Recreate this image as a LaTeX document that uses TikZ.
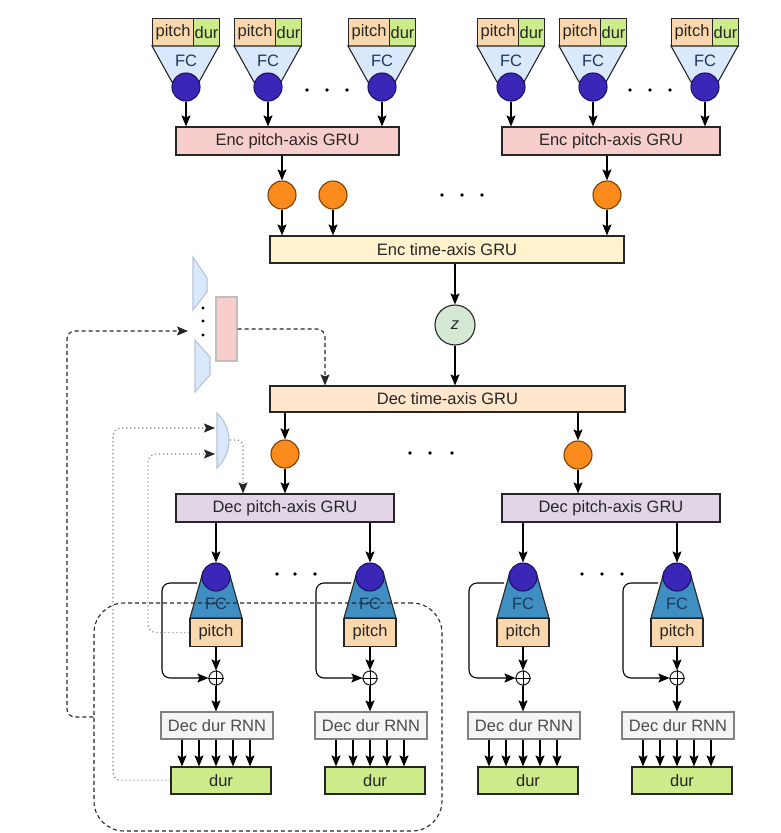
\documentclass[tikz,border=0pt]{standalone}
\usepackage{fontspec}
\setmainfont{Liberation Sans}
\usetikzlibrary{arrows.meta}
\definecolor{linec}{HTML}{262626}
\definecolor{pitchc}{HTML}{FAD7AC}
\definecolor{durc}{HTML}{CDEB8B}
\definecolor{fcenc}{HTML}{DAE8FC}
\definecolor{fcdec}{HTML}{3F8FC3}
\definecolor{fctext}{HTML}{1C3A5C}
\definecolor{unitc}{HTML}{3A27B8}
\definecolor{unitd}{HTML}{1C1266}
\definecolor{latc}{HTML}{FA8B1C}
\definecolor{latd}{HTML}{7A4000}
\definecolor{encp}{HTML}{F8CECC}
\definecolor{enctc}{HTML}{FFF2CC}
\definecolor{zc}{HTML}{D5E8D4}
\definecolor{dectc}{HTML}{FFE6CC}
\definecolor{decp}{HTML}{E1D5E7}
\definecolor{rnnc}{HTML}{F5F5F5}
\definecolor{fadec}{HTML}{B8C4D4}
\begin{document}
\begin{tikzpicture}[x=1pt,y=-1pt,line width=1.1pt,
	>={Stealth[length=11pt,width=9pt,inset=2pt]},
	every node/.style={font=\fontsize{16.5}{19}\selectfont,inner sep=0pt,text=linec},
	cell/.style={draw=linec,minimum height=28pt},
	unit/.style={circle,draw=unitd,fill=unitc,minimum size=28pt},
	lat/.style={circle,draw=latd,fill=latc,minimum size=28pt},
	dashline/.style={draw=linec,dash pattern=on 4pt off 3pt},
	dotline/.style={draw=gray,dash pattern=on 1.2pt off 2.8pt,-{Stealth[length=11pt,width=9pt,inset=2pt,linec]}}]
	\useasboundingbox (0,0) rectangle (780,833);
	
	%encoder inputs
	\foreach \l [count=\i] in {152,234,348,477,559,671}{
		\node[cell,fill=pitchc,minimum width=41pt,anchor=north west] (ep\i) at (\l,18){pitch};
		\node[cell,fill=durc,minimum width=26pt,anchor=north west] (ed\i) at (\l+41,18){dur};
		\filldraw[fill=fcenc,draw=linec] (\l,46) -- (\l+67,46) -- (\l+47,82) -- (\l+20,82) -- cycle;
		\node[text=fctext] (efc\i) at (\l+34,61){FC};
		\node[unit] (eu\i) at (\l+34,87){};
	}
	\foreach \x in {307,327,347,630,650,670}{
		\fill (\x,90) circle (1.8);
	}
	
	%encoder
	\node[cell,fill=encp,minimum width=223pt] (encpl) at (287.5,141){Enc pitch-axis GRU};
	\node[cell,fill=encp,minimum width=218pt] (encpr) at (611,141){Enc pitch-axis GRU};
	\foreach \i in {1,2,3}{
		\draw[->] (eu\i) -- (eu\i |- encpl.north);
	}
	\foreach \i in {4,5,6}{
		\draw[->] (eu\i) -- (eu\i |- encpr.north);
	}
	\node[lat] (el1) at (282,195){};
	\node[lat] (el2) at (333,195){};
	\node[lat] (el3) at (607,195){};
	\foreach \x in {442,462,482}{
		\fill (\x,195) circle (1.8);
	}
	\node[cell,fill=enctc,minimum width=354pt,minimum height=27pt] (enct) at (447,249.5){Enc time-axis GRU};
	\draw[->] (el1 |- encpl.south) -- (el1);
	\draw[->] (el3 |- encpr.south) -- (el3);
	\foreach \i in {1,2,3}{
		\draw[->] (el\i) -- (el\i |- enct.north);
	}
	
	%latent
	\node[circle,draw=linec,fill=zc,minimum size=40pt] (z) at (455,325){\textit{z}};
	\node[cell,fill=dectc,minimum width=355pt,minimum height=26pt] (dect) at (447.5,399){Dec time-axis GRU};
	\draw[->] (z |- enct.south) -- (z);
	\draw[->] (z) -- (z |- dect.north);
	
	%side encoder
	\filldraw[fill=fcenc,draw=fadec] (193,257) -- (207,278) -- (207,292) -- (193,310) -- cycle;
	\filldraw[fill=fcenc,draw=fadec] (195,340) -- (210,357) -- (210,375) -- (195,392) -- cycle;
	\foreach \y in {308,321,335}{
		\fill (203,\y) circle (1.6);
	}
	\node[draw=gray!50,fill=encp,minimum width=21pt,minimum height=64pt] (side) at (226.5,329){};
	\coordinate (sidein) at (188,331);
	\coordinate (sidedrop) at (325,0);
	\draw[dashline,->,rounded corners=8pt] (side.east) -| (sidedrop |- dect.north);
	
	%decoder
	\node[lat] (dl1) at (285,454){};
	\node[lat] (dl2) at (578,455){};
	\foreach \x in {410,430,452}{
		\fill (\x,453) circle (1.8);
	}
	\node[cell,fill=decp,minimum width=218pt] (decpl) at (285,508){Dec pitch-axis GRU};
	\node[cell,fill=decp,minimum width=218pt] (decpr) at (611,508){Dec pitch-axis GRU};
	\draw[->] (dl1 |- dect.south) -- (dl1);
	\draw[->] (dl2 |- dect.south) -- (dl2);
	\draw[->] (dl1) -- (dl1 |- decpl.north);
	\draw[->] (dl2) -- (dl2 |- decpr.north);
	\foreach \x in {277,295,315,582,602,622}{
		\fill (\x,574) circle (1.8);
	}
	
	\foreach \x/\g [count=\i] in {216/decpl,370/decpl,523/decpr,677/decpr}{
		\filldraw[fill=fcdec,draw=linec] (\x-13,572) -- (\x+13,572) -- (\x+26,618) -- (\x-26,618) -- cycle;
		\node[text=fctext] (dfc\i) at (\x,604){FC};
		\node[unit] (du\i) at (\x,577){};
		\node[cell,fill=pitchc,minimum width=52pt,anchor=north] (dp\i) at (\x,618){pitch};
		\node[circle,draw=linec,minimum size=14pt] (op\i) at (\x,678){};
		\draw[line width=0.8pt] (op\i.north) -- (op\i.south) (op\i.west) -- (op\i.east);
		\node[draw=gray,fill=rnnc,minimum width=112pt,minimum height=27pt,text=black!70] (rnn\i) at (\x+1,725.5){Dec dur RNN};
		\node[cell,fill=durc,minimum width=100pt,minimum height=27pt] (dd\i) at (\x+5,780.5){dur};
		\coordinate (tap\i) at (\x-19,583);
		\draw[->] (du\i |- \g.south) -- (du\i);
		\draw[->,rounded corners=8pt] (tap\i) -| (\x-54,678) -- (op\i.west);
		\draw[->] (dp\i) -- (op\i);
		\draw[->] (op\i) -- (op\i |- rnn\i.north);
		\foreach \d in {-34,-17,0,17,34}{
			\draw[->] ([xshift=\d pt]op\i |- rnn\i.south) -- ([xshift=\d pt]op\i |- dd\i.north);
		}
	}
	
	%feedback
	\filldraw[fill=fcenc,draw=fadec] (217,413) .. controls (233,428) and (233,453) .. (217,468) -- cycle;
	\coordinate (mixin1) at (215,428);
	\coordinate (mixin2) at (215,454);
	\coordinate (mixout) at (230,440);
	\coordinate (mixdrop) at (243,0);
	\draw[dotline,rounded corners=8pt] (dd1.west) -| (113,428) -- (mixin1);
	\draw[dotline,rounded corners=8pt] (dp1.west) -| (148,454) -- (mixin2);
	\draw[dotline,rounded corners=6pt] (mixout) -| (mixdrop |- decpl.north);
	\node[dashline,rounded corners=30pt,minimum width=348pt,minimum height=228pt] (grp) at (268,717){};
	\draw[dashline,->,rounded corners=8pt] (grp.west) -| (67,331) -- (sidein);
\end{tikzpicture}
\end{document}
